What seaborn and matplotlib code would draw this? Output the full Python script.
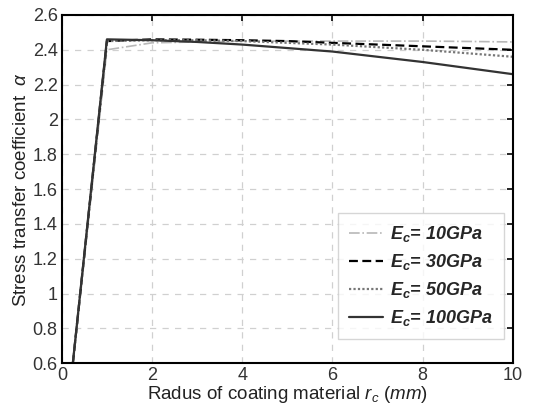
import numpy as np
import pandas as pd
import matplotlib
matplotlib.use("Agg")
import matplotlib.pyplot as plt
import seaborn as sns

# radius of coating (mm) and alpha per coating modulus
radius = [0, 1, 2, 3, 4, 5, 6, 7, 8, 9, 10]
alpha_10 = [0.0, 2.40, 2.44, 2.445, 2.45, 2.45, 2.45, 2.45, 2.45, 2.448, 2.445]
alpha_30 = [0.0, 2.45, 2.46, 2.458, 2.455, 2.45, 2.44, 2.43, 2.42, 2.41, 2.40]
alpha_50 = [0.0, 2.45, 2.455, 2.455, 2.45, 2.44, 2.43, 2.415, 2.40, 2.38, 2.36]
alpha_100 = [0.0, 2.46, 2.455, 2.445, 2.43, 2.41, 2.39, 2.36, 2.33, 2.295, 2.26]
labels = ["10GPa", "30GPa", "50GPa", "100GPa"]

sns.set_style("white")
plt.rcParams["font.family"] = ["Liberation Sans", "DejaVu Sans"]
plt.rcParams["mathtext.fontset"] = "custom"
plt.rcParams["mathtext.rm"] = "Liberation Sans"
plt.rcParams["mathtext.it"] = "Liberation Sans:italic"
plt.rcParams["mathtext.bfit"] = "Liberation Sans:italic:bold"

df = pd.DataFrame({
    "r": radius * 4,
    "alpha": alpha_10 + alpha_30 + alpha_50 + alpha_100,
    "E": sum([[l] * len(radius) for l in labels], []),
})

fig = plt.figure(figsize=(5.33, 4.16), dpi=100)
ax = fig.add_axes([0.116, 0.127, 0.846, 0.837])

styles = {
    "10GPa": dict(color="#b8b8b8", ls="-.", lw=1.2),
    "30GPa": dict(color="black", ls=(0, (4, 2)), lw=1.6),
    "50GPa": dict(color="#777777", ls=(0, (1, 1)), lw=1.6),
    "100GPa": dict(color="#333333", ls="-", lw=1.6),
}
for lab in labels:
    sub = df[df["E"] == lab]
    sns.lineplot(data=sub, x="r", y="alpha", ax=ax,
                 label=r"$\mathbfit{E_c}$= " + lab, **styles[lab])

ax.set_xlim(0, 10)
ax.set_ylim(0.6, 2.6)
ax.set_xticks(np.arange(0, 11, 2))
ax.set_yticks(np.arange(0.6, 2.61, 0.2))
ax.set_yticklabels(["0.6", "0.8", "1", "1.2", "1.4", "1.6", "1.8", "2", "2.2", "2.4", "2.6"])
ax.grid(True, ls=(0, (5, 5)), color="#d0d0d0", lw=0.9)
ax.tick_params(direction="in", length=4, width=1.2, labelsize=13,
               top=True, right=True, colors="black")
ax.tick_params(axis="x", pad=3)
ax.tick_params(axis="y", pad=3)
for tl in ax.get_xticklabels() + ax.get_yticklabels():
    tl.set_color("#333333")
for s in ax.spines.values():
    s.set_linewidth(1.5)
    s.set_color("black")

ax.set_xlabel(r"Radus of coating material $r_c$ $(mm)$", fontsize=13.5, labelpad=0, color="#222222")
ax.set_ylabel(r"Stress transfer coefficient  $\alpha$", fontsize=13.5, labelpad=2, color="#222222")

leg = ax.legend(loc="lower right", bbox_to_anchor=(0.98, 0.069), borderaxespad=0,
                frameon=True, fancybox=False,
                prop=dict(size=13, weight="bold", style="italic"),
                handlelength=1.9, handletextpad=0.4, labelspacing=0.45, borderpad=0.6)
leg.get_frame().set_edgecolor("#cccccc")
leg.get_frame().set_linewidth(1.0)

fig.savefig("out.png", dpi=100)
